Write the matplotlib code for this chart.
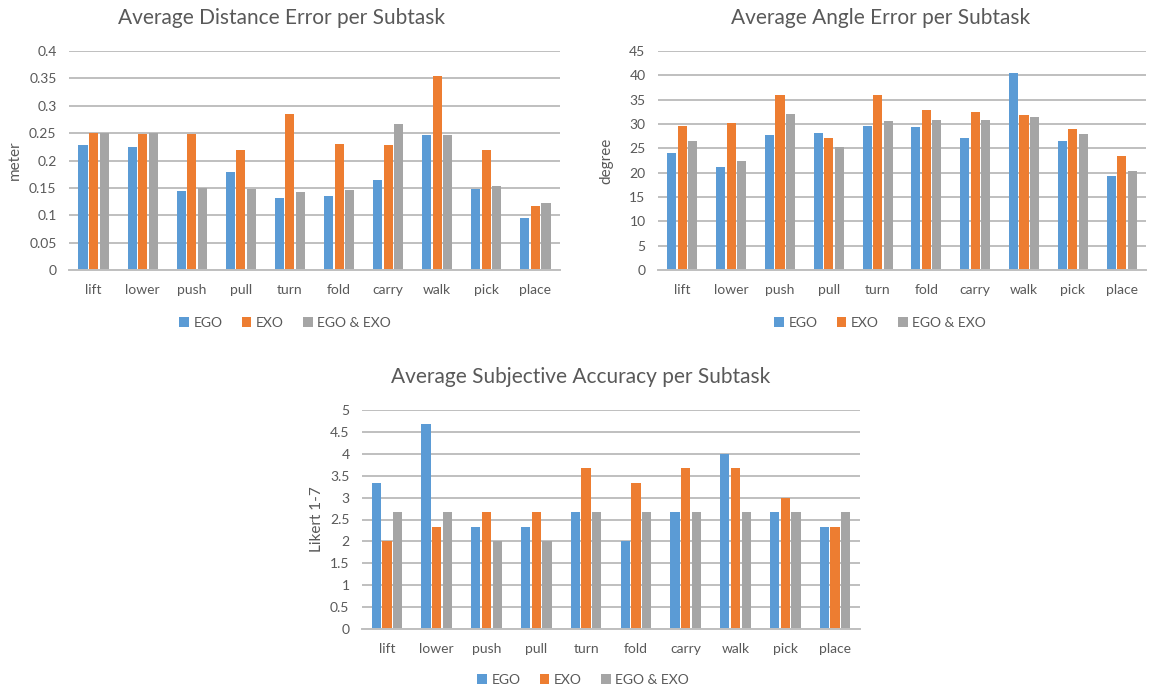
import matplotlib
matplotlib.use("Agg")
import matplotlib.pyplot as plt
import numpy as np
from matplotlib.patches import Patch

plt.rcParams['font.family'] = ['Lato', 'DejaVu Sans']

subtasks = ["lift", "lower", "push", "pull", "turn", "fold", "carry", "walk", "pick", "place"]
series_names = ["EGO", "EXO", "EGO & EXO"]
colors = ["#5B9BD5", "#ED7D31", "#A5A5A5"]

# Average distance error (meter)
dist_ego = [0.228, 0.225, 0.145, 0.179, 0.131, 0.136, 0.164, 0.247, 0.148, 0.095]
dist_exo = [0.250, 0.248, 0.248, 0.219, 0.285, 0.231, 0.229, 0.355, 0.219, 0.117]
dist_both = [0.250, 0.251, 0.150, 0.148, 0.143, 0.147, 0.267, 0.247, 0.154, 0.123]

# Average angle error (degree)
ang_ego = [24.0, 21.2, 27.8, 28.1, 29.6, 29.4, 27.2, 40.4, 26.5, 19.3]
ang_exo = [29.6, 30.2, 35.9, 27.1, 35.9, 32.9, 32.4, 31.9, 28.9, 23.5]
ang_both = [26.5, 22.4, 32.1, 25.2, 30.7, 30.9, 30.9, 31.4, 28.0, 20.4]

# Average subjective accuracy (Likert 1-7)
subj_ego = [3.33, 4.67, 2.33, 2.33, 2.67, 2.00, 2.67, 4.00, 2.67, 2.33]
subj_exo = [2.00, 2.33, 2.67, 2.67, 3.67, 3.33, 3.67, 3.67, 3.00, 2.33]
subj_both = [2.67, 2.67, 2.00, 2.00, 2.67, 2.67, 2.67, 2.67, 2.67, 2.67]

dist_ticks = [0, 0.05, 0.1, 0.15, 0.2, 0.25, 0.3, 0.35, 0.4]
dist_ticklabels = ["0", "0.05", "0.1", "0.15", "0.2", "0.25", "0.3", "0.35", "0.4"]
ang_ticks = [0, 5, 10, 15, 20, 25, 30, 35, 40, 45]
subj_ticks = [0, 0.5, 1, 1.5, 2, 2.5, 3, 3.5, 4, 4.5, 5]
subj_ticklabels = ["0", "0.5", "1", "1.5", "2", "2.5", "3", "3.5", "4", "4.5", "5"]

TEXT = "#595959"
GRID = "#BFBFBF"
W, H = 1156, 692

fig = plt.figure(figsize=(W / 100, H / 100), dpi=100)


def px_axes(x0, x1, y_top, y_bot):
    return fig.add_axes([x0 / W, 1 - y_bot / H, (x1 - x0) / W, (y_bot - y_top) / H])


def draw_chart(ax, data, ticks, ticklabels, ylabel, ylabel_x, title, title_x, title_y,
               legend_x, legend_y):
    x = np.arange(len(subtasks))
    step = 0.215
    width = 0.185
    for i, (vals, c) in enumerate(zip(data, colors)):
        ax.bar(x + (i - 1) * step, vals, width=width, color=c, zorder=3,
               edgecolor="none")
    ax.set_xlim(-0.5, len(subtasks) - 0.5)
    ax.set_ylim(ticks[0], ticks[-1])
    ax.set_yticks(ticks)
    ax.set_yticklabels(ticklabels)
    ax.set_xticks(x)
    ax.set_xticklabels(subtasks)
    ax.tick_params(axis="both", length=0, labelsize=10, colors=TEXT)
    ax.tick_params(axis="x", pad=10)
    ax.tick_params(axis="y", pad=9)
    ax.yaxis.grid(True, color=GRID, linewidth=1.4, zorder=0)
    ax.set_axisbelow(True)
    for s in ["top", "right", "left"]:
        ax.spines[s].set_visible(False)
    ax.spines["bottom"].set_color(GRID)
    ax.spines["bottom"].set_linewidth(1.4)
    ax.spines["bottom"].set_zorder(4)
    pos = ax.get_position()
    fig.text(ylabel_x / W, pos.y0 + pos.height / 2, ylabel, rotation=90,
             ha="center", va="center", fontsize=11, color=TEXT)
    fig.text(title_x / W, 1 - title_y / H, title, ha="center", va="center",
             fontsize=15, color=TEXT)
    handles = [Patch(facecolor=c, edgecolor="none") for c in colors]
    fig.legend(handles, series_names, loc="center", ncol=3, frameon=False,
               bbox_to_anchor=(legend_x / W, 1 - legend_y / H), fontsize=10,
               labelcolor=TEXT, handlelength=0.7, handleheight=0.7,
               handletextpad=0.3, columnspacing=1.4)


ax1 = px_axes(69, 560, 51, 270)
draw_chart(ax1, [dist_ego, dist_exo, dist_both], dist_ticks, dist_ticklabels,
           "meter", 15, "Average Distance Error per Subtask", 281, 18, 285, 323)

ax2 = px_axes(658, 1146, 51, 270)
draw_chart(ax2, [ang_ego, ang_exo, ang_both], ang_ticks, [str(t) for t in ang_ticks],
           "degree", 606, "Average Angle Error per Subtask", 881, 18, 880, 323)

ax3 = px_axes(362, 860, 410, 629)
draw_chart(ax3, [subj_ego, subj_exo, subj_both], subj_ticks, subj_ticklabels,
           "Likert 1-7", 317, "Average Subjective Accuracy per Subtask", 581, 377, 583, 680)

fig.savefig("out.png", dpi=100, facecolor="white")
